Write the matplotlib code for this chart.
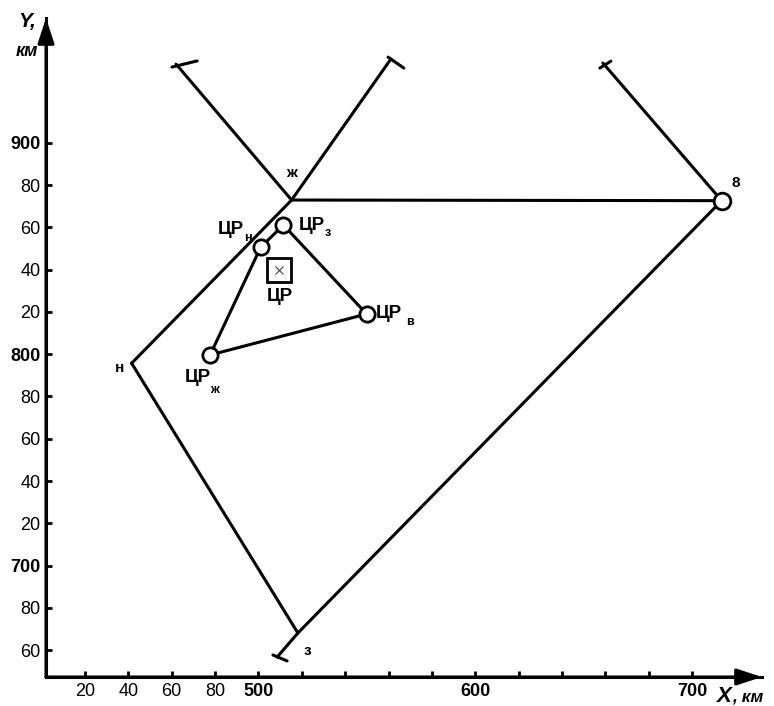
import matplotlib.pyplot as plt

plt.rcParams['font.family'] = ['Liberation Sans', 'DejaVu Sans']

# === Axis ticks (km) ===
x_ticks = list(range(420, 701, 20))
x_labels = ["20", "40", "60", "80", "500", "", "", "", "", "600", "", "", "", "", "700"]
y_ticks = list(range(660, 901, 20))
y_labels = ["60", "80", "700", "20", "40", "60", "80", "800", "20", "40", "60", "80", "900"]

# === Route turning points (km) ===
turn_names = ["н", "ж", "8", "з"]
turn_x = [441.5, 515.3, 713.7, 518.2]
turn_y = [795.7, 872.9, 872.6, 668.1]

# bearing lines: from turning point (index) to a hooked end
bear_from = [1, 1, 2, 3]
bear_x = [462.0, 561.1, 658.9, 508.6]
bear_y = [937.2, 939.6, 937.7, 656.7]
hook_x0 = [460.1, 559.8, 657.5, 506.7]
hook_y0 = [935.8, 940.5, 935.3, 657.7]
hook_x1 = [471.7, 567.1, 662.6, 513.2]
hook_y1 = [938.7, 935.3, 938.6, 654.9]

# === Centres of regions (ЦР) ===
cr_sub = ["н", "з", "в", "ж"]
cr_x = [501.0, 511.5, 549.9, 477.7]
cr_y = [850.5, 861.1, 819.0, 799.6]
cr_main_x, cr_main_y = 509.5, 839.8

W, H = 774, 706
fig = plt.figure(figsize=(W / 100, H / 100), dpi=100)
ax = fig.add_axes([46 / W, 29 / H, 716 / W, 659 / H])
ax.set_xlim(402.0, 732.3)
ax.set_ylim(647.3, 959.0)

LW = 2.2
for s in ["top", "right"]:
    ax.spines[s].set_visible(False)
for s in ["left", "bottom"]:
    ax.spines[s].set_linewidth(LW)

# axis arrows
arrow = dict(arrowstyle="-|>,head_length=1.1,head_width=0.36", mutation_scale=14,
             color="k", lw=LW, shrinkA=0, shrinkB=0)
ax.annotate("", xy=(1, 0), xytext=(0, 0), xycoords="axes fraction", arrowprops=arrow)
ax.annotate("", xy=(0, 1), xytext=(0, 0), xycoords="axes fraction", arrowprops=arrow)

ax.set_xticks(x_ticks)
ax.set_xticklabels(x_labels)
ax.set_yticks(y_ticks)
ax.set_yticklabels(y_labels)
ax.tick_params(direction="in", length=4, width=2, labelsize=13, pad=4)
for t in ax.get_xticklabels() + ax.get_yticklabels():
    if len(t.get_text()) == 3:
        t.set_fontweight("bold")

# axis names
fig.text(18 / W, 1 - 21 / H, "Y,", fontsize=15, fontweight="bold", style="italic", va="center")
fig.text(16 / W, 1 - 51 / H, "км", fontsize=13, fontweight="bold", style="italic", va="center")
fig.text(716 / W, 1 - 697 / H, "X", fontsize=16, fontweight="bold", style="italic", va="center")
fig.text(732 / W, 1 - 697 / H, ", км", fontsize=12.5, fontweight="bold", style="italic", va="center")

# === Route polygon н-ж-8-з ===
route = [0, 1, 2, 3, 0]
ax.plot([turn_x[i] for i in route], [turn_y[i] for i in route], color="k", lw=LW,
        solid_capstyle="round", solid_joinstyle="miter", clip_on=False)

for i, bx, by, hx0, hy0, hx1, hy1 in zip(bear_from, bear_x, bear_y, hook_x0, hook_y0, hook_x1, hook_y1):
    ax.plot([turn_x[i], bx], [turn_y[i], by], color="k", lw=LW, solid_capstyle="round", clip_on=False)
    ax.plot([hx0, hx1], [hy0, hy1], color="k", lw=LW, solid_capstyle="round", clip_on=False)

ax.plot(turn_x[2], turn_y[2], "o", ms=12, mfc="white", mec="k", mew=2, zorder=5)

turn_off = [(-12, -5), (0, 27), (14, 18), (10, -18)]
for name, x, y, off in zip(turn_names, turn_x, turn_y, turn_off):
    ax.annotate(name, (x, y), xytext=off, textcoords="offset pixels", ha="center", va="center",
                fontsize=11, fontweight="bold")

# === ЦР quadrilateral ===
order = [0, 1, 2, 3, 0]
ax.plot([cr_x[i] for i in order], [cr_y[i] for i in order], color="k", lw=LW, zorder=3)
ax.plot(cr_x, cr_y, "o", ms=11, mfc="white", mec="k", mew=2, ls="none", zorder=5)

ax.plot(cr_main_x, cr_main_y, "s", ms=17, mfc="white", mec="k", mew=2, zorder=5)
ax.plot(cr_main_x, cr_main_y, "x", ms=6, mew=0.8, color="#444444", zorder=6)
ax.annotate("ЦР", (cr_main_x, cr_main_y), xytext=(1, -26), textcoords="offset pixels",
            ha="center", va="center", fontsize=13.5, fontweight="bold")

main_off = [(-43, 18), (15, -1), (9, 0), (-25, -22)]
sub_off = [(-13, 9), (44, -8), (43, -8), (4, -35)]
for sub, x, y, mo, so in zip(cr_sub, cr_x, cr_y, main_off, sub_off):
    ax.annotate("ЦР", (x, y), xytext=mo, textcoords="offset pixels", ha="left", va="center",
                fontsize=13.5, fontweight="bold")
    ax.annotate(sub, (x, y), xytext=so, textcoords="offset pixels", ha="center", va="center",
                fontsize=9, fontweight="bold")

fig.savefig("out.png", dpi=100)
